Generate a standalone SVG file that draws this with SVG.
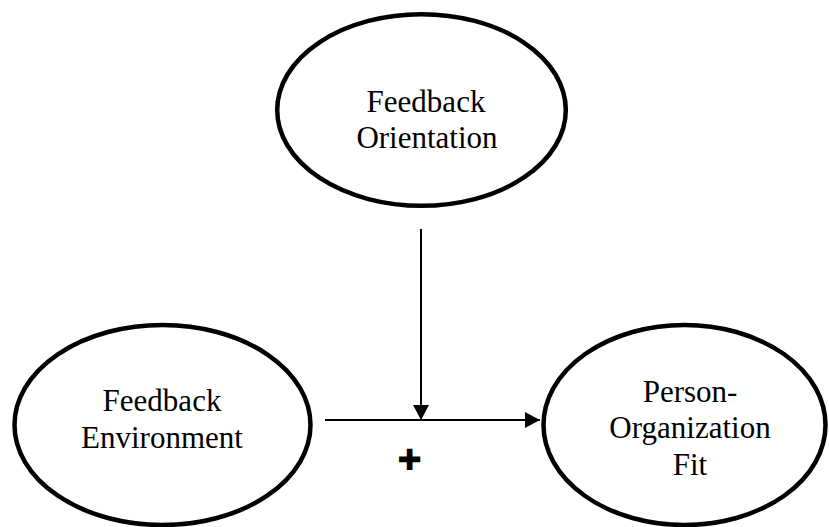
<svg xmlns="http://www.w3.org/2000/svg" width="829" height="527" viewBox="0 0 829 527">
<defs>
<style>
.node ellipse{fill:#fff;stroke:#000;stroke-width:4.5}
.node text{font-size:31px;fill:#000;text-anchor:middle}
.conn line{stroke:#000;stroke-width:2}
.plus{font-size:29px;fill:#000;text-anchor:middle}
</style>
<marker id="arr" markerWidth="16" markerHeight="16" viewBox="0 0 16 16" refX="15" refY="8" orient="auto" markerUnits="userSpaceOnUse">
<path d="M0,0 L15,8 L0,16 Z" fill="#000"/>
</marker>
</defs>
<rect width="829" height="527" fill="#fff"/>
<g id="fo" class="node" font-family="'Liberation Serif', 'DejaVu Serif', serif">
<ellipse cx="421.5" cy="110" rx="144.3" ry="95.8"/>
<text x="426" y="112">Feedback</text>
<text x="427" y="148">Orientation</text>
</g>
<g id="fe" class="node" font-family="'Liberation Serif', 'DejaVu Serif', serif">
<ellipse cx="162.5" cy="425" rx="148" ry="100"/>
<text x="162" y="411">Feedback</text>
<text x="162" y="448">Environment</text>
</g>
<g id="pof" class="node" font-family="'Liberation Serif', 'DejaVu Serif', serif">
<ellipse cx="684.5" cy="425" rx="141" ry="100"/>
<text x="690" y="402">Person-</text>
<text x="690" y="438">Organization</text>
<text x="690" y="475">Fit</text>
</g>
<g id="connectors" class="conn">
<line x1="325" y1="420" x2="540" y2="420" marker-end="url(#arr)"/>
<line x1="421" y1="229" x2="421" y2="420" marker-end="url(#arr)"/>
</g>
<text class="plus" font-family="'DejaVu Sans', sans-serif" x="409.5" y="470">✚</text>
</svg>
